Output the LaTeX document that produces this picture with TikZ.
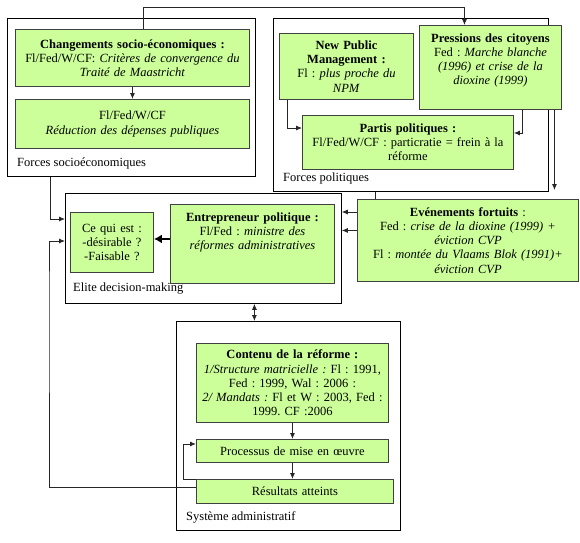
\documentclass[tikz,border=0pt]{standalone}
\usepackage{fontspec}
\setmainfont{Liberation Serif}
\usetikzlibrary{arrows.meta,backgrounds}
\definecolor{boxgreen}{RGB}{204,255,153}

\begin{document}
\begin{tikzpicture}[x=1pt,y=-1pt,
  every node/.style={font=\fontsize{12.5}{14.2}\selectfont\frenchspacing},
  frame/.style={draw=black, line width=0.8pt, anchor=north west, inner sep=0pt},
  gbox/.style={draw=black!75, line width=0.9pt, fill=boxgreen, anchor=north west,
    align=center, inner xsep=3pt, inner ysep=2pt},
  flabel/.style={anchor=west, inner sep=0pt},
  conn/.style={draw=black!85, line width=0.8pt},
  bigarrow/.style={draw=black, line width=2.5pt, -{Latex[length=8pt,width=9pt]}},
  >={Latex[length=6pt,width=5pt]}]

\useasboundingbox (0,0) rectangle (580,542);

% Frames
\node[frame, minimum width=248pt, minimum height=158pt] (fs) at (7,18) {};
\node[frame, minimum width=275pt, minimum height=173pt] (fp) at (273,18) {};
\node[frame, minimum width=276pt, minimum height=110pt] (elite) at (65,193) {};
\node[frame, minimum width=224pt, minimum height=209pt] (sa) at (176,321) {};

\node[flabel] (fslab) at (17,163) {Forces socioéconomiques};
\node[flabel] (fplab) at (283,178) {Forces politiques};
\node[flabel] (elab) at (73,289) {Elite decision-making};
\node[flabel] (salab) at (186,517) {Système administratif};

% Forces socioeconomiques
\node[gbox, text width=228pt, minimum width=234pt, minimum height=57pt] (chg) at (15,29)
  {\textbf{Changements socio-économiques :}\\ Fl/Fed/W/CF: \textit{Critères de convergence du}\\ \textit{Traité de Maastricht}};
\node[gbox, text width=228pt, minimum width=234pt, minimum height=49pt] (red) at (15,99)
  {Fl/Fed/W/CF\\ \textit{Réduction des dépenses publiques}};

% Forces politiques
\node[gbox, text width=128pt, minimum width=134pt, minimum height=66pt] (npm) at (279,33)
  {\textbf{New Public}\\ \textbf{Management :}\\ Fl : \textit{plus proche du}\\ \textit{NPM}};
\node[gbox, text width=136pt, minimum width=142pt, minimum height=84pt, text depth=59pt] (press) at (419,25)
  {\textbf{Pressions des citoyens}\\ Fed : \textit{Marche blanche}\\ \textit{(1996) et crise de la}\\ \textit{dioxine (1999)}};
\node[gbox, text width=205pt, minimum width=211pt, minimum height=54pt] (partis) at (302,115)
  {\textbf{Partis politiques :}\\ Fl/Fed/W/CF : particratie = frein à la\\ réforme};

% Elite decision-making
\node[gbox, text width=77pt, minimum width=83pt, minimum height=60pt] (ceq) at (70,212)
  {Ce qui est :\\ -désirable ?\\ -Faisable ?};
\node[gbox, text width=158pt, minimum width=164pt, minimum height=79pt, text depth=54pt] (ent) at (170,204)
  {\textbf{Entrepreneur politique :}\\ Fl/Fed : \textit{ministre des}\\ \textit{réformes administratives}};
\node[gbox, text width=215pt, minimum width=221pt, minimum height=82pt] (evt) at (357,199)
  {\textbf{Evénements fortuits} :\\ Fed : \textit{crise de la dioxine (1999) +}\\ \textit{éviction CVP}\\ Fl : \textit{montée du Vlaams Blok (1991)+}\\ \textit{éviction CVP}};

% Systeme administratif
\node[gbox, text width=186pt, minimum width=192pt, minimum height=79pt] (cont) at (196,343)
  {\textbf{Contenu de la réforme :}\\ \textit{1/Structure matricielle :} Fl : 1991,\\ Fed : 1999, Wal : 2006 :\\ \textit{2/ Mandats :} Fl et W : 2003, Fed :\\ 1999. CF :2006};
\node[gbox, text width=186pt, minimum width=192pt, minimum height=23pt] (proc) at (196,439)
  {Processus de mise en œuvre};
\node[gbox, text width=191pt, minimum width=197pt, minimum height=24pt] (res) at (196,479)
  {Résultats atteints};

\coordinate (fb) at (49,300);

% Connectors
\draw[conn,->] ([xshift=11pt]chg.north) -- ++(0,-22) -| ([xshift=-26pt]press.north);
\draw[conn,->] (chg) -- (red);
\draw[conn,->] ([xshift=43pt]fs.south west) |- ([yshift=-26pt]elite.north west);
\draw[conn,->] ([xshift=8pt]npm.south west) |- ([yshift=-13pt]partis.north west);
\draw[conn,->] ([xshift=32pt]press.south) |- ([yshift=-18pt]partis.north east);
\draw[conn,->, shorten >=9pt] ([xshift=64pt]press.south) -- ([xshift=64pt]press.south |- evt.north);
\begin{scope}[on background layer]
\draw[conn,->] ([xshift=-36pt]fp.south) |- ([yshift=-19pt]elite.north east);
\end{scope}
\draw[conn,->] ([yshift=10pt]evt.west) -- ([yshift=10pt]evt.west -| elite.east);
\draw[bigarrow] ([yshift=5pt]ent.west) -- ([yshift=5pt]ent.west -| ceq.east);
\draw[conn,<->] ([xshift=51pt]elite.south) -- ([xshift=51pt]elite.south |- sa.north);
\draw[conn,->] (cont) -- (proc);
\draw[conn,->] (proc.south) -- (proc.south |- res.north);
\draw[conn,->] (res.north west) -- ++(-13,0) |- ([yshift=7pt]proc.west);
\draw[conn,->] ([yshift=4pt]res.west) -| (fb) |- ([yshift=-48pt]elite.north west);

\end{tikzpicture}
\end{document}
